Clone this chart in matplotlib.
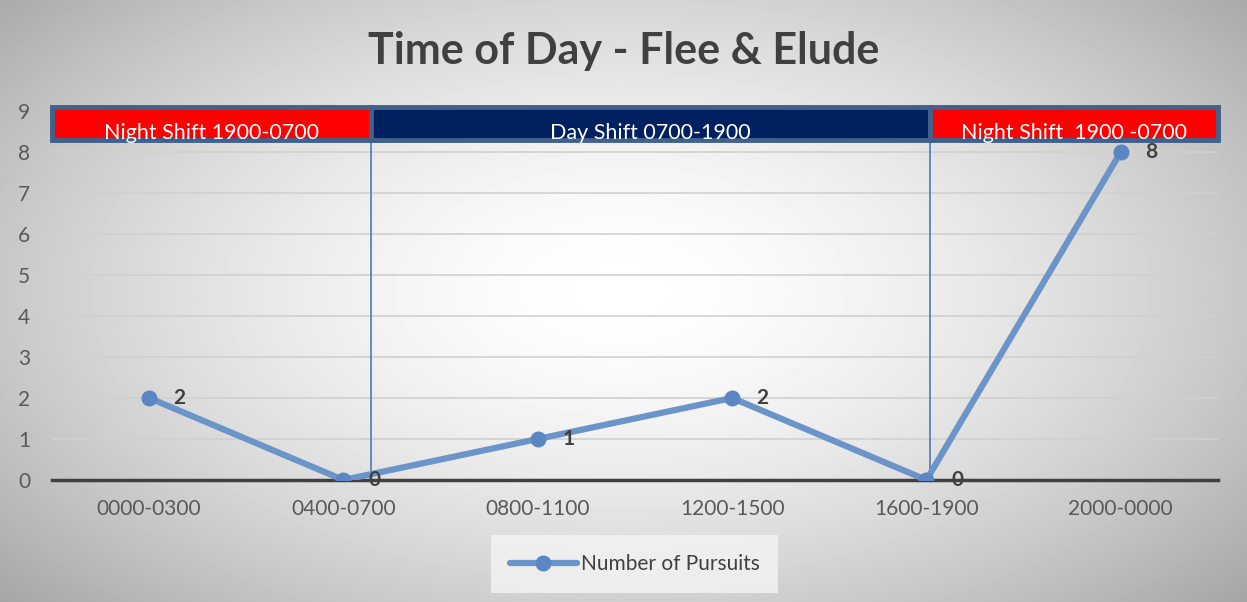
import numpy as np
import matplotlib
matplotlib.use("Agg")
import matplotlib.pyplot as plt
from matplotlib.patches import Rectangle

plt.rcParams["font.family"] = ["Lato", "DejaVu Sans"]

# Data
time_slots = ["0000-0300", "0400-0700", "0800-1100", "1200-1500", "1600-1900", "2000-0000"]
pursuits = [2, 0, 1, 2, 0, 8]

# shift bands in category units
shift_labels = ["Night Shift 1900-0700", "Day Shift 0700-1900", "Night Shift  1900 -0700"]
shift_edges = [-0.5, 1.14, 4.02, 5.5]
shift_colors = ["#ff0000", "#002060", "#ff0000"]

fig = plt.figure(figsize=(12.47, 6.02), dpi=100)

# radial background
bg = fig.add_axes([0, 0, 1, 1], zorder=-10)
yy, xx = np.mgrid[0:602, 0:1247]
r = np.sqrt(((xx - 620) / 760.0) ** 2 + ((yy - 290) / 420.0) ** 2)
shade = np.clip(1 - 0.30 * r ** 1.6, 0, 1)
bg.imshow(shade, cmap="gray", vmin=0, vmax=1, aspect="auto")
bg.axis("off")

ax = fig.add_axes([0.0417, 0.2027, 0.935, 0.6129])
ax.patch.set_alpha(0)

x = np.arange(len(time_slots))
ax.plot(x, pursuits, color="#6b94c9", lw=4.5, marker="o", ms=10.5,
        mfc="#5a87c4", mec="#5a87c4", label="Number of Pursuits", zorder=4,
        solid_capstyle="round")

for xi, v in zip(x, pursuits):
    ax.annotate(str(v), (xi, v), xytext=(22, 0), textcoords="offset points",
                ha="center", va="center", fontsize=15, fontweight="bold",
                color="#404040", zorder=5)

# shift divider lines
for xv in shift_edges[1:3]:
    ax.plot([xv, xv], [0, 8.5], color="#4a7ab8", lw=1.2, zorder=3)

# shift boxes
for i, lab in enumerate(shift_labels):
    x0, x1 = shift_edges[i], shift_edges[i + 1]
    ax.add_patch(Rectangle((x0, 8.3), x1 - x0, 0.8, facecolor=shift_colors[i],
                           edgecolor="#41608c", lw=3.5, clip_on=False, zorder=6))
    ax.text((x0 + x1) / 2, 8.46, lab, ha="center", va="center", color="white",
            fontsize=15.5, zorder=7, clip_on=False)

ax.set_xlim(-0.5, 5.5)
ax.set_ylim(0, 9)
ax.set_yticks(range(0, 10))
ax.set_xticks(x)
ax.set_xticklabels(time_slots)
ax.tick_params(axis="both", length=0, labelsize=15, colors="#595959")
ax.tick_params(axis="x", pad=14)
ax.tick_params(axis="y", pad=20)
for lab in ax.get_yticklabels():
    lab.set_horizontalalignment("center")
ax.grid(axis="y", color="#d0d0d0", lw=1.2)
ax.set_axisbelow(True)
for s in ["top", "right", "left"]:
    ax.spines[s].set_visible(False)
ax.spines["bottom"].set_color("#404040")
ax.spines["bottom"].set_linewidth(2.5)
ax.spines["bottom"].set_zorder(2)

fig.text(0.5, 0.915, "Time of Day - Flee & Elude", ha="center", va="center",
         fontsize=31, fontweight="bold", color="#404040")

leg = fig.legend(loc="center", bbox_to_anchor=(0.509, 0.063), frameon=True,
                 fontsize=15, handlelength=3.2, borderpad=0.6, handletextpad=0.2)
leg.get_frame().set_facecolor("#f4f4f4")
leg.get_frame().set_edgecolor("none")
leg.get_frame().set_boxstyle("square")
for t in leg.get_texts():
    t.set_color("#404040")

fig.savefig("out.png", dpi=100)
